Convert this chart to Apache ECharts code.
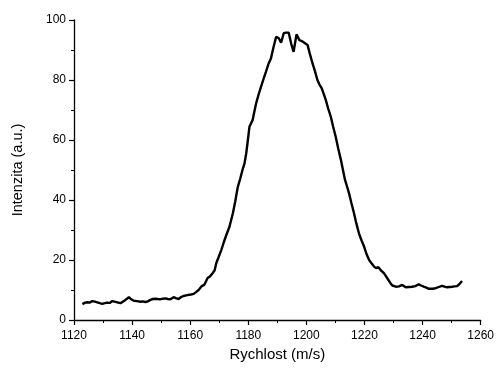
<!DOCTYPE html>
<html>
<head>
<meta charset="utf-8">
<script src="https://cdn.jsdelivr.net/npm/echarts@6/dist/echarts.min.js"></script>
<style>html,body{margin:0;padding:0;background:#fff;}#c{width:497px;height:370px;}</style>
</head>
<body>
<div id="c"></div>
<script>
const velocity = [1122.9,1123.8,1124.6,1125.5,1126.3,1127.2,1128.0,1128.9,1129.7,1130.6,1131.4,1132.3,1133.2,1134.0,1134.9,1136.0,1136.9,1137.7,1138.3,1138.9,1139.7,1140.6,1141.7,1142.9,1143.7,1144.6,1145.4,1146.3,1147.2,1148.0,1148.8,1149.7,1150.6,1151.5,1152.3,1153.2,1154.3,1155.1,1156.0,1156.8,1157.7,1158.6,1159.5,1160.3,1161.2,1162.0,1162.9,1164.0,1164.9,1166.0,1166.8,1167.7,1168.4,1169.0,1169.8,1170.7,1171.6,1172.5,1173.5,1174.7,1175.5,1176.4,1177.2,1178.0,1178.7,1179.3,1179.8,1180.4,1181.5,1182.1,1182.7,1183.5,1184.4,1185.3,1186.1,1187.0,1187.8,1188.7,1189.6,1190.5,1191.3,1192.2,1193.0,1193.9,1194.8,1195.6,1196.6,1197.6,1198.4,1199.3,1200.4,1201.2,1202.1,1203.0,1203.8,1204.5,1205.3,1206.0,1206.7,1207.5,1208.4,1209.2,1210.1,1211.0,1211.9,1212.6,1213.3,1214.0,1214.7,1215.5,1216.4,1217.2,1218.1,1219.0,1219.9,1220.7,1221.6,1222.5,1223.3,1224.0,1224.8,1225.7,1226.7,1227.8,1229.0,1229.6,1230.2,1230.8,1231.9,1233.0,1234.2,1235.3,1236.4,1237.5,1238.7,1239.5,1240.4,1241.3,1242.2,1243.4,1244.5,1245.6,1246.7,1247.6,1248.4,1249.3,1250.2,1251.0,1251.9,1252.7,1253.6];
const intensity = [5.3,5.8,5.9,5.8,6.3,6.1,5.9,5.6,5.4,5.6,5.8,5.7,6.3,6.1,5.9,5.6,6.2,6.7,7.0,7.6,6.9,6.4,6.3,6.1,6.2,6.0,6.2,6.7,7.0,7.1,7.0,6.9,7.1,7.2,7.0,6.9,7.6,7.3,7.0,7.6,8.0,8.2,8.4,8.5,8.7,9.3,10.0,11.3,11.8,14.0,14.5,15.6,16.5,19.0,21.0,23.3,26.0,28.5,31.0,35.6,39.5,44.4,47.0,50.0,52.2,55.6,59.5,64.4,66.7,69.5,72.2,75.0,77.8,80.5,82.8,85.5,87.2,91.0,94.4,93.9,92.4,95.6,95.8,95.8,92.0,89.4,95.2,93.3,93.0,92.4,91.7,88.7,85.6,82.8,80.0,78.5,77.2,75.3,73.3,70.5,67.8,64.5,61.1,57.0,53.3,50.0,46.7,44.5,42.2,39.0,35.6,32.2,28.9,26.5,24.4,22.0,20.0,18.8,17.8,17.3,17.6,16.5,15.6,14.0,12.2,11.5,11.7,11.1,11.2,11.7,10.9,11.0,11.1,11.3,11.9,11.5,11.1,10.8,10.4,10.4,10.6,11.0,11.4,11.1,10.9,11.0,11.1,11.2,11.3,12.0,13.0];
const xTitle = 'Rychlost (m/s)';
const yTitle = 'Intenzita (a.u.)';

const data = velocity.map((v, i) => [v, intensity[i]]);
const font = 'Liberation Sans, Arial, sans-serif';
const chart = echarts.init(document.getElementById('c'), null, {renderer: 'canvas'});
chart.setOption({
  animation: false,
  backgroundColor: '#fff',
  grid: {left: 74, right: 15, top: 20, bottom: 50, containLabel: false},
  xAxis: {
    type: 'value', min: 1120, max: 1260, interval: 20,
    name: xTitle, nameLocation: 'middle', nameGap: 27,
    nameTextStyle: {fontFamily: font, fontSize: 15, color: '#000'},
    axisLine: {show: true, onZero: false, lineStyle: {color: '#000', width: 1.3}},
    axisTick: {show: true, inside: false, length: 5, lineStyle: {color: '#000', width: 1.2}},
    minorTick: {show: true, splitNumber: 2, length: 3, lineStyle: {color: '#000', width: 1}},
    axisLabel: {fontFamily: font, fontSize: 12, color: '#000', margin: 10, formatter: v => String(v)},
    splitLine: {show: false}
  },
  yAxis: {
    type: 'value', min: 0, max: 100, interval: 20,
    name: yTitle, nameLocation: 'middle', nameGap: 49, nameRotate: 90,
    nameTextStyle: {fontFamily: font, fontSize: 14.5, color: '#000'},
    axisLine: {show: true, onZero: false, lineStyle: {color: '#000', width: 1.3}},
    axisTick: {show: true, inside: false, length: 5, lineStyle: {color: '#000', width: 1.2}},
    minorTick: {show: true, splitNumber: 2, length: 3, lineStyle: {color: '#000', width: 1}},
    axisLabel: {fontFamily: font, fontSize: 12, color: '#000', margin: 8, formatter: v => String(v)},
    splitLine: {show: false}
  },
  series: [{
    type: 'line', data: data, showSymbol: false, smooth: false,
    lineStyle: {color: '#000', width: 2.4}
  }]
});
</script>
</body>
</html>
